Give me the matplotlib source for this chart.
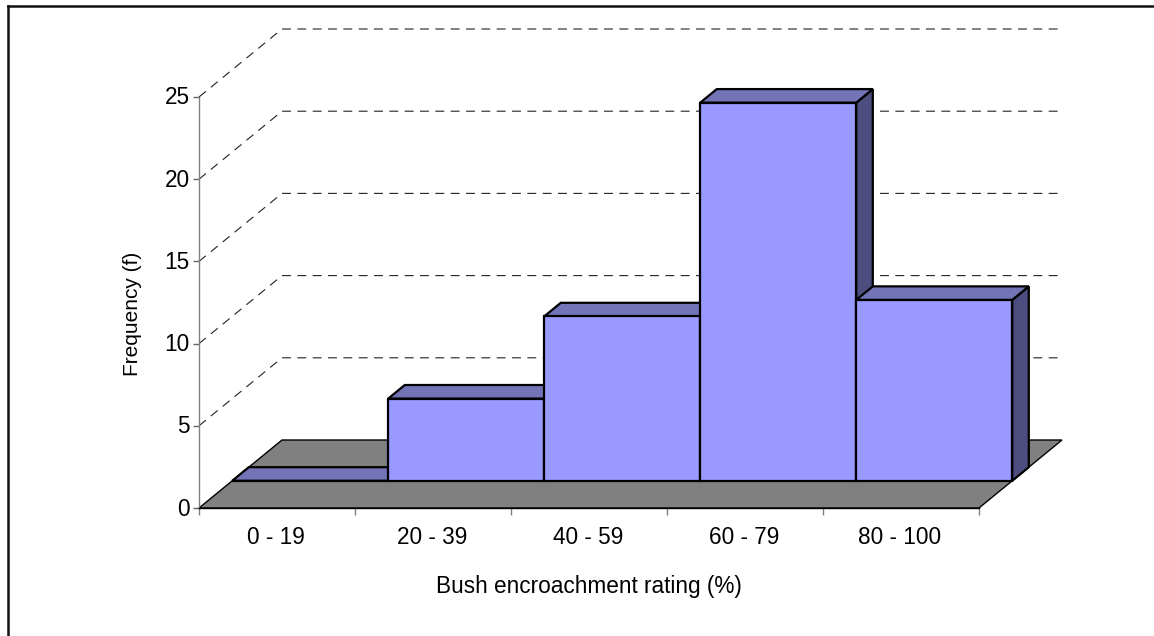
import matplotlib
matplotlib.use("Agg")
import matplotlib.pyplot as plt
from matplotlib.lines import Line2D
from matplotlib.patches import Polygon
from matplotlib.transforms import ScaledTranslation

plt.rcParams["font.family"] = ["Liberation Sans", "DejaVu Sans"]

categories = ["0 - 19", "20 - 39", "40 - 59", "60 - 79", "80 - 100"]
frequency = [0, 5, 10, 23, 11]
y_ticks = [0, 5, 10, 15, 20, 25]

W, H = 1154, 636
FRONT = "#9999ff"
TOP = "#7373b8"
SIDE = "#4d4d80"
FLOOR = "#808080"
FONT_SIZE = 16.3

# floor depth and bar placement, in category / frequency units
DEPTH_X = 83 / 156
DEPTH_Y = 68 / 16.44
BAR_NEAR = 0.4
BAR_FAR = 0.6


def project(x, y, d):
    return x + d * DEPTH_X, y + d * DEPTH_Y


def quad(ax, corners, color, lw=1.6, edge="black", z=3):
    ax.add_patch(Polygon([project(*c) for c in corners], closed=True, facecolor=color,
                         edgecolor=edge, linewidth=lw, joinstyle="miter", clip_on=False, zorder=z))


def draw_bar(ax, i, value, z):
    a, b = BAR_NEAR, BAR_FAR
    quad(ax, [(i + 1, 0, a), (i + 1, 0, b), (i + 1, value, b), (i + 1, value, a)], SIDE, z=z)
    quad(ax, [(i, value, a), (i + 1, value, a), (i + 1, value, b), (i, value, b)], TOP, z=z)
    quad(ax, [(i, 0, a), (i + 1, 0, a), (i + 1, value, a), (i, value, a)], FRONT, z=z)


fig = plt.figure(figsize=(W / 100, H / 100), dpi=100, facecolor="white")
ax = fig.add_axes([199 / W, 1 - 508 / H, 780 / W, 411 / H])
ax.set_xlim(0, 5)
ax.set_ylim(0, 25)
ax.patch.set_visible(False)

# chart frame: only the top and left edges show
fig.add_artist(Line2D([8 / W, 1], [1 - 6 / H, 1 - 6 / H], color="#111111", linewidth=1.8))
fig.add_artist(Line2D([8 / W, 8 / W], [0, 1 - 6 / H], color="#111111", linewidth=1.8))

# wall gridlines running back from the axis and across
for v in y_ticks[1:]:
    px, py = project(0, v, 1)
    ex, ey = project(5, v, 1)
    ax.plot([0, px, ex], [v, py, ey], color="#222222", linewidth=0.8, dashes=(8, 5.8),
            clip_on=False, zorder=1)

quad(ax, [(0, 0, 0), (5, 0, 0), (5, 0, 1), (0, 0, 1)], FLOOR, lw=1.0, z=2)

for i, value in enumerate(frequency):
    draw_bar(ax, i, value, 3 + i)

for side in ("top", "right"):
    ax.spines[side].set_visible(False)
ax.spines["left"].set_color("#808080")
ax.spines["left"].set_linewidth(1.0)
ax.spines["bottom"].set_color("black")
ax.spines["bottom"].set_linewidth(1.0)
ax.spines["bottom"].set_zorder(10)

ax.set_yticks(y_ticks)
ax.set_xticks(range(6))
ax.set_xticklabels([])
ax.tick_params(axis="y", length=4.5, width=1.0, color="#666666", labelsize=FONT_SIZE, pad=2)
ax.tick_params(axis="x", length=5, width=1.0, color="#808080")

# nudge the frequency numbers slightly above their ticks
nudge = ScaledTranslation(0, 1.5 / 100, fig.dpi_scale_trans)
for lab in ax.get_yticklabels():
    lab.set_transform(lab.get_transform() + nudge)

for i, label in enumerate(categories):
    ax.annotate(label, xy=(i + 0.5, 0), xytext=(-1, -30), textcoords="offset pixels",
                ha="center", va="center", fontsize=FONT_SIZE, color="black", annotation_clip=False)

fig.text(589 / W, 1 - 586.5 / H, "Bush encroachment rating (%)", ha="center", va="center",
         fontsize=FONT_SIZE, color="black")
fig.text(132 / W, 1 - 314 / H, "Frequency (f)", rotation=90, ha="center", va="center",
         fontsize=15, color="black")

fig.savefig("out.png", dpi=100, facecolor="white")
